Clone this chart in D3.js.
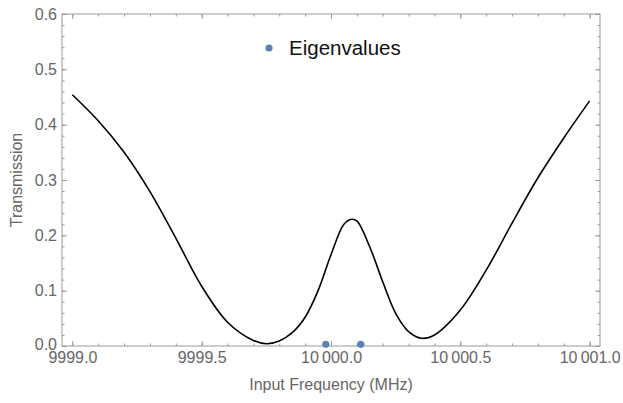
<!DOCTYPE html>
<html>
<head>
<meta charset="utf-8">
<script src="https://cdnjs.cloudflare.com/ajax/libs/d3/7.8.5/d3.min.js"></script>
<style>
  body { margin: 0; background: #fff; }
  text { font-family: "Liberation Sans", Arial, sans-serif; }
</style>
</head>
<body>
<div id="chart"></div>
<script>
// transmission curve
var freq = [9999.0, 9999.1, 9999.2, 9999.3, 9999.4, 9999.5, 9999.6, 9999.7, 9999.75,
            9999.8, 9999.85, 9999.9, 9999.95, 10000.0, 10000.05, 10000.08, 10000.1,
            10000.15, 10000.2, 10000.25, 10000.3, 10000.35, 10000.4, 10000.5, 10000.6,
            10000.7, 10000.8, 10000.9, 10001.0];
var trans = [0.454, 0.407, 0.350, 0.279, 0.195, 0.108, 0.043, 0.010, 0.004,
             0.009, 0.024, 0.052, 0.100, 0.165, 0.220, 0.229, 0.226,
             0.179, 0.116, 0.059, 0.026, 0.014, 0.020, 0.065, 0.137,
             0.222, 0.304, 0.376, 0.443];

// eigenvalue markers
var eigFreq = [9999.98, 10000.115];
var eigVal = [0.003, 0.003];

var xTicks = [9999.0, 9999.5, 10000.0, 10000.5, 10001.0];
var yTicks = [0.0, 0.1, 0.2, 0.3, 0.4, 0.5, 0.6];

var width = 623, height = 403;
var margin = { top: 14, right: 23, bottom: 57, left: 62 };

var svg = d3.select("#chart").append("svg")
    .attr("width", width)
    .attr("height", height);

var x = d3.scaleLinear()
    .domain([9998.96, 10001.04])
    .range([margin.left, width - margin.right]);

var y = d3.scaleLinear()
    .domain([0, 0.6])
    .range([height - margin.bottom, margin.top]);

var frameColor = "#999999";
var labelColor = "#666666";

function fmtX(d) {
    var s = d.toFixed(1);
    if (d >= 10000) s = s.slice(0, 2) + "\u2009" + s.slice(2);
    return s;
}

var minorX = d3.range(9999.0, 10001.01, 0.1);
var minorY = d3.range(0, 0.601, 0.02);

// ticks point inward, on all four sides
function drawAxes() {
    var gBottomMinor = svg.append("g")
        .attr("transform", "translate(0," + y(0) + ")")
        .call(d3.axisBottom(x).tickValues(minorX).tickSize(-2.5).tickFormat(""));
    var gTopMinor = svg.append("g")
        .attr("transform", "translate(0," + y(0.6) + ")")
        .call(d3.axisTop(x).tickValues(minorX).tickSize(-2.5).tickFormat(""));
    var gLeftMinor = svg.append("g")
        .attr("transform", "translate(" + margin.left + ",0)")
        .call(d3.axisLeft(y).tickValues(minorY).tickSize(-2.5).tickFormat(""));
    var gRightMinor = svg.append("g")
        .attr("transform", "translate(" + (width - margin.right) + ",0)")
        .call(d3.axisRight(y).tickValues(minorY).tickSize(-2.5).tickFormat(""));

    var gBottom = svg.append("g")
        .attr("transform", "translate(0," + y(0) + ")")
        .call(d3.axisBottom(x).tickValues(xTicks).tickSize(-5).tickPadding(6).tickFormat(fmtX));
    var gTop = svg.append("g")
        .attr("transform", "translate(0," + y(0.6) + ")")
        .call(d3.axisTop(x).tickValues(xTicks).tickSize(-5).tickFormat(""));
    var gLeft = svg.append("g")
        .attr("transform", "translate(" + margin.left + ",0)")
        .call(d3.axisLeft(y).tickValues(yTicks).tickSize(-5).tickPadding(5).tickFormat(d3.format(".1f")));
    var gRight = svg.append("g")
        .attr("transform", "translate(" + (width - margin.right) + ",0)")
        .call(d3.axisRight(y).tickValues(yTicks).tickSize(-5).tickFormat(""));

    [gBottomMinor, gTopMinor, gLeftMinor, gRightMinor, gBottom, gTop, gLeft, gRight].forEach(function (g) {
        g.select(".domain").remove();
        g.selectAll("line").attr("stroke", frameColor);
        g.selectAll("text")
            .attr("fill", labelColor)
            .style("font-size", "16px")
            .style("font-family", "'Liberation Sans', Arial, sans-serif");
    });
    // nudge the 0.0 label up a bit so it clears 9999.0
    gLeft.selectAll("text").filter(function (d) { return d === 0; }).attr("dy", "0.2em");
}
drawAxes();

// frame
svg.append("rect")
    .attr("x", margin.left)
    .attr("y", margin.top)
    .attr("width", width - margin.left - margin.right)
    .attr("height", height - margin.top - margin.bottom)
    .attr("fill", "none")
    .attr("stroke", frameColor)
    .attr("stroke-width", 1);

// curve
var pts = freq.map(function (f, i) { return [f, trans[i]]; });
var line = d3.line()
    .x(function (d) { return x(d[0]); })
    .y(function (d) { return y(d[1]); })
    .curve(d3.curveCatmullRom.alpha(0.5));

svg.append("path")
    .datum(pts)
    .attr("d", line)
    .attr("fill", "none")
    .attr("stroke", "#000")
    .attr("stroke-width", 1.6);

// eigenvalue points
svg.selectAll(".eig")
    .data(eigFreq)
    .enter().append("circle")
    .attr("class", "eig")
    .attr("cx", function (d) { return x(d); })
    .attr("cy", function (d, i) { return y(eigVal[i]); })
    .attr("r", 3.6)
    .attr("fill", "#5e81b5");

// legend
svg.append("circle")
    .attr("cx", 269)
    .attr("cy", 48)
    .attr("r", 3.6)
    .attr("fill", "#5e81b5");
svg.append("text")
    .attr("x", 289)
    .attr("y", 55)
    .attr("fill", "#111")
    .style("font-size", "20.5px")
    .text("Eigenvalues");

// axis titles
svg.append("text")
    .attr("x", (margin.left + width - margin.right) / 2)
    .attr("y", 390)
    .attr("text-anchor", "middle")
    .attr("fill", labelColor)
    .style("font-size", "16px")
    .text("Input Frequency (MHz)");

svg.append("text")
    .attr("transform", "translate(22," + ((margin.top + height - margin.bottom) / 2) + ") rotate(-90)")
    .attr("text-anchor", "middle")
    .attr("fill", labelColor)
    .style("font-size", "16px")
    .text("Transmission");
</script>
</body>
</html>
